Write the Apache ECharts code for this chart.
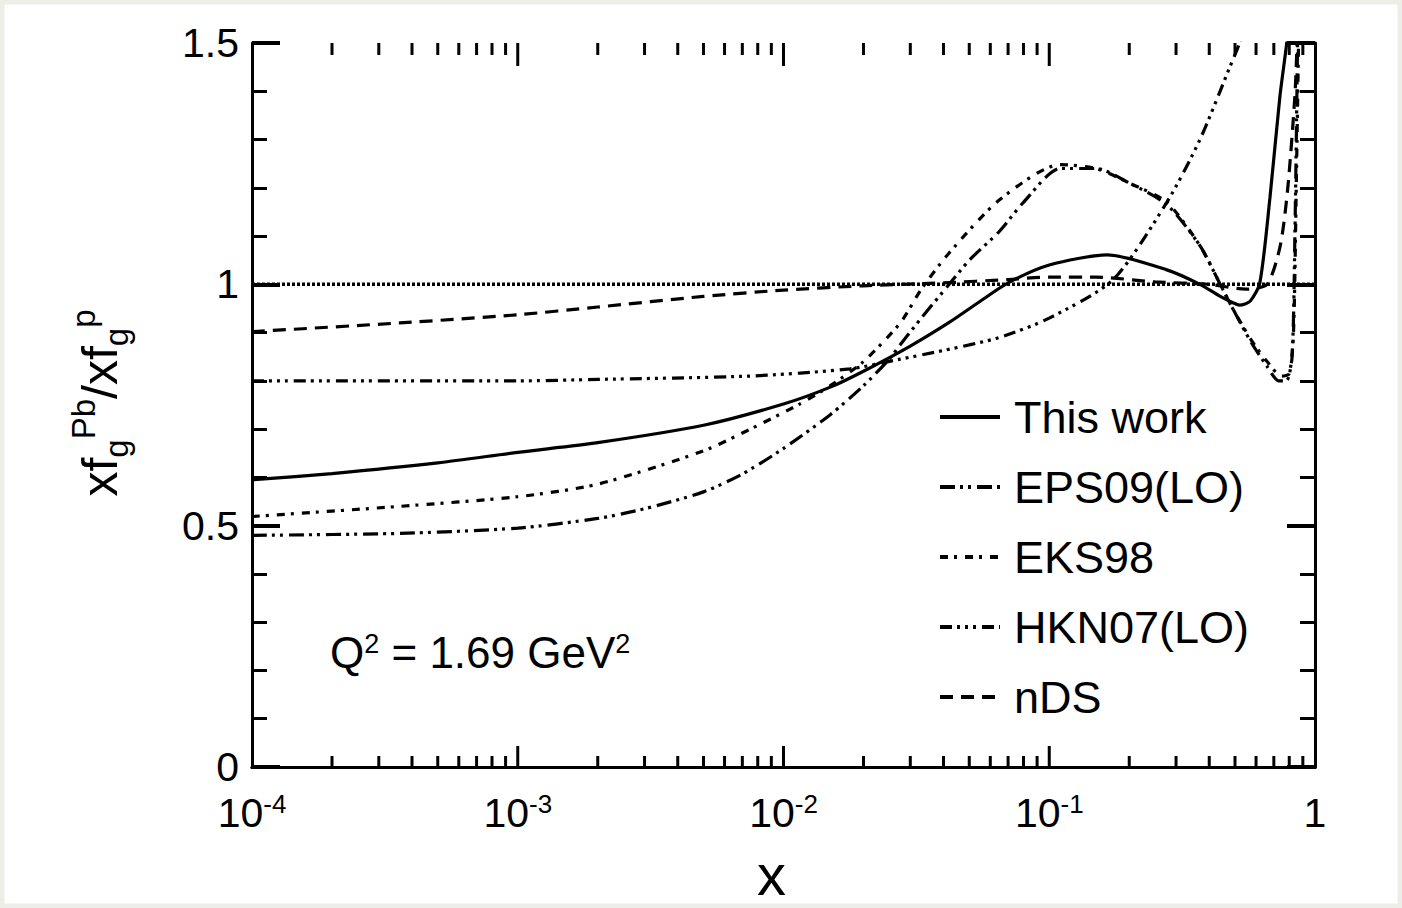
<!DOCTYPE html>
<html>
<head>
<meta charset="utf-8">
<script src="https://cdn.jsdelivr.net/npm/echarts@6/dist/echarts.min.js"></script>
<style>
html,body{margin:0;padding:0;background:#fff;}
#chart{width:1402px;height:908px;}
</style>
</head>
<body>
<div id="chart"></div>
<script>
// ---- data ----
const seriesNames = ['This work', 'EPS09(LO)', 'EKS98', 'HKN07(LO)', 'nDS'];

const thisWorkX = [1e-4, 2e-4, 5e-4, 1e-3, 2e-3, 5e-3, 1e-2, 1.5e-2, 2e-2, 3e-2, 4.2e-2, 5.5e-2, 7e-2, 0.1, 0.165, 0.277, 0.369, 0.44, 0.491, 0.52, 0.57, 0.62, 0.677, 0.738, 0.785, 0.81];
const thisWorkY = [0.595, 0.608, 0.63, 0.652, 0.672, 0.708, 0.752, 0.787, 0.82, 0.872, 0.921, 0.965, 1.003, 1.04, 1.061, 1.03, 1.0, 0.975, 0.962, 0.957, 0.965, 1.003, 1.18, 1.39, 1.506, 1.6];

const eps09X = [1e-4, 3.6e-4, 1e-3, 2e-3, 3e-3, 5e-3, 7e-3, 1e-2, 1.5e-2, 2e-2, 2.5e-2, 2.75e-2, 3.3e-2, 4.2e-2, 5e-2, 6.5e-2, 8e-2, 0.11, 0.15, 0.2, 0.277, 0.369, 0.44, 0.49, 0.575, 0.66, 0.73, 0.78, 0.82, 0.84, 0.86, 0.87];
const eps09Y = [0.48, 0.484, 0.495, 0.515, 0.535, 0.57, 0.607, 0.66, 0.73, 0.79, 0.845, 0.875, 0.93, 1.0, 1.05, 1.11, 1.17, 1.24, 1.24, 1.21, 1.165, 1.08, 1.0, 0.95, 0.88, 0.83, 0.80, 0.80, 0.85, 1.1, 1.5, 1.7];

const eks98X = [1e-4, 3.6e-4, 1e-3, 2e-3, 5e-3, 7.5e-3, 1.15e-2, 1.5e-2, 2e-2, 2.75e-2, 3.3e-2, 4.2e-2, 6.5e-2, 0.11, 0.15, 0.2, 0.277, 0.369, 0.44, 0.49, 0.575, 0.66, 0.75, 0.8, 0.83, 0.85, 0.87];
const eks98Y = [0.519, 0.54, 0.56, 0.586, 0.655, 0.7, 0.752, 0.79, 0.84, 0.92, 0.99, 1.065, 1.175, 1.248, 1.24, 1.21, 1.17, 1.08, 1.0, 0.95, 0.885, 0.84, 0.81, 0.815, 0.9, 1.2, 1.55];

const hkn07X = [1e-4, 1e-3, 2e-3, 7.5e-3, 1.78e-2, 2.75e-2, 4e-2, 6.5e-2, 0.1, 0.174, 0.277, 0.369, 0.478, 0.52, 0.6];
const hkn07Y = [0.80, 0.80, 0.803, 0.81, 0.825, 0.845, 0.863, 0.89, 0.93, 1.01, 1.17, 1.30, 1.45, 1.5, 1.62];

const ndsX = [1e-4, 3.6e-4, 1e-3, 2e-3, 5e-3, 1e-2, 2e-2, 4e-2, 7e-2, 0.1, 0.15, 0.25, 0.4, 0.55, 0.66, 0.74, 0.79, 0.84, 0.855, 0.87];
const ndsY = [0.902, 0.92, 0.937, 0.953, 0.975, 0.988, 0.997, 1.003, 1.01, 1.015, 1.015, 1.005, 1.0, 0.99, 1.0, 1.08, 1.2, 1.39, 1.49, 1.6];

const refX = [1e-4, 1];
const refY = [1, 1];

const xMajorTicks = [1e-3, 1e-2, 1e-1];
const xMinorTicks = [];
[1e-4, 1e-3, 1e-2, 1e-1].forEach(function (d) { for (let k = 2; k <= 9; k++) xMinorTicks.push(d * k); });

const yTickLabels = ['0', '0.5', '1', '1.5'];

function zip(xs, ys) { return xs.map(function (x, i) { return [x, ys[i]]; }); }

const FONT = "'Liberation Sans', Arial, Helvetica, sans-serif";

const chart = echarts.init(document.getElementById('chart'), null, { renderer: 'svg' });

function lineSeries(name, xs, ys, dash, width) {
  return {
    name: name, type: 'line', data: zip(xs, ys), symbol: 'none', smooth: 0.25,
    xAxisIndex: 0, yAxisIndex: 0, clip: true, silent: true, color: '#000',
    itemStyle: { color: '#000' },
    lineStyle: { color: '#000', width: width, type: dash }
  };
}

const tickData = xMinorTicks.map(function (v) { return [v, 0, 0]; })
  .concat(xMajorTicks.map(function (v) { return [v, 0, 1]; }));

const option = {
  backgroundColor: '#ffffff',
  animation: false,
  grid: { left: 252, right: 87, top: 43, bottom: 140 },
  xAxis: [{
    type: 'log', logBase: 10, min: 1e-4, max: 1, position: 'bottom',
    name: 'x', nameLocation: 'middle', nameGap: 78,
    nameTextStyle: { fontFamily: FONT, fontSize: 58, color: '#000', padding: [0, 24, 0, 0] },
    axisLine: { show: true, lineStyle: { color: '#000', width: 3 } },
    axisTick: { show: false },
    minorTick: { show: false },
    splitLine: { show: false },
    axisLabel: {
      margin: 24, showMinLabel: true, showMaxLabel: true,
      formatter: function (v) {
        const e = Math.round(Math.log10(v));
        if (e === 0) return '{b|1}';
        return '{b|10}{s|' + e + '}';
      },
      rich: {
        b: { fontFamily: FONT, fontSize: 41, color: '#000', lineHeight: 44 },
        s: { fontFamily: FONT, fontSize: 26, color: '#000', verticalAlign: 'top', lineHeight: 26 }
      }
    }
  }, {
    type: 'log', logBase: 10, min: 1e-4, max: 1, position: 'top',
    axisLine: { show: true, lineStyle: { color: '#000', width: 3 } },
    axisTick: { show: false },
    axisLabel: { show: false }, splitLine: { show: false }
  }],
  yAxis: [{
    type: 'value', min: 0, max: 1.5, interval: 0.5, position: 'left',
    axisLine: { show: true, lineStyle: { color: '#000', width: 3 } },
    axisTick: { show: true, inside: true, length: 28, lineStyle: { color: '#000', width: 4 } },
    minorTick: { show: true, splitNumber: 5, length: 15, lineStyle: { color: '#000', width: 3 } },
    splitLine: { show: false },
    axisLabel: {
      margin: 13, color: '#000', fontFamily: FONT, fontSize: 41, lineHeight: 40,
      formatter: function (v) { return yTickLabels[Math.round(v / 0.5)]; }
    }
  }, {
    type: 'value', min: 0, max: 1.5, interval: 0.5, position: 'right',
    axisLine: { show: true, lineStyle: { color: '#000', width: 3 } },
    axisTick: { show: true, inside: true, length: 28, lineStyle: { color: '#000', width: 4 } },
    minorTick: { show: true, splitNumber: 5, length: 15, lineStyle: { color: '#000', width: 3 } },
    splitLine: { show: false },
    axisLabel: { show: false }
  }],
  legend: {
    data: seriesNames, orient: 'vertical', left: 938, top: 392, padding: 0,
    itemWidth: 60, itemHeight: 20, itemGap: 20, selectedMode: false,
    itemStyle: { opacity: 0 },
    lineStyle: { width: 4 },
    textStyle: { fontFamily: FONT, fontSize: 45, color: '#000', lineHeight: 50, padding: [0, 0, 0, 9] }
  },
  graphic: [{
    type: 'rect', shape: { x: 0, y: 0, width: 1402, height: 908 }, silent: true, z: -10,
    style: { fill: 'none', stroke: '#eeeee8', lineWidth: 9 }
  }, {
    type: 'text', left: 330, top: 630, silent: true,
    style: {
      text: 'Q{s|2} = 1.69 GeV{s|2}',
      font: '44px ' + FONT, fill: '#000',
      rich: {
        s: { fontSize: 27, fontFamily: FONT, verticalAlign: 'top', fill: '#000' }
      }
    }
  }, {
    type: 'text', x: 100, y: 403, rotation: Math.PI / 2, silent: true,
    style: {
      text: 'xf{sub|g}{sup|Pb}/xf{sub|g}{sup|p}',
      font: '50px ' + FONT, fill: '#000', align: 'center', verticalAlign: 'middle',
      lineHeight: 66,
      rich: {
        sub: { fontSize: 33, fontFamily: FONT, verticalAlign: 'bottom', fill: '#000' },
        sup: { fontSize: 33, fontFamily: FONT, verticalAlign: 'top', fill: '#000' }
      }
    }
  }],
  series: [
    lineSeries('This work', thisWorkX, thisWorkY, 'solid', 3.2),
    lineSeries('EPS09(LO)', eps09X, eps09Y, [15, 5, 3, 5, 3, 6], 3.2),
    lineSeries('EKS98', eks98X, eks98Y, [8, 6, 3, 8], 3.2),
    lineSeries('HKN07(LO)', hkn07X, hkn07Y, [12, 5, 3, 5, 3, 5, 3, 6], 3.2),
    lineSeries('nDS', ndsX, ndsY, [13, 8], 3.2),
    {
      name: 'ref', type: 'line', data: zip(refX, refY), symbol: 'none', silent: true,
      lineStyle: { color: '#000', width: 3.5, type: [3, 2] }
    },
    {
      name: 'xticks', type: 'custom', silent: true, clip: false,
      xAxisIndex: 0, yAxisIndex: 0,
      data: tickData,
      encode: { x: 0, y: 1 },
      renderItem: function (params, api) {
        const v = api.value(0);
        const major = api.value(2) === 1;
        const b = api.coord([v, 0]);
        const t = api.coord([v, 1.5]);
        return {
          type: 'group', children: [
            { type: 'line', shape: { x1: t[0], y1: t[1], x2: t[0], y2: t[1] + (major ? 23 : 12) }, style: { stroke: '#000', lineWidth: 3 } },
            { type: 'line', shape: { x1: b[0], y1: b[1], x2: b[0], y2: b[1] - (major ? 21 : 11) }, style: { stroke: '#000', lineWidth: 3 } }
          ]
        };
      }
    }
  ]
};
chart.setOption(option);
</script>
</body>
</html>
